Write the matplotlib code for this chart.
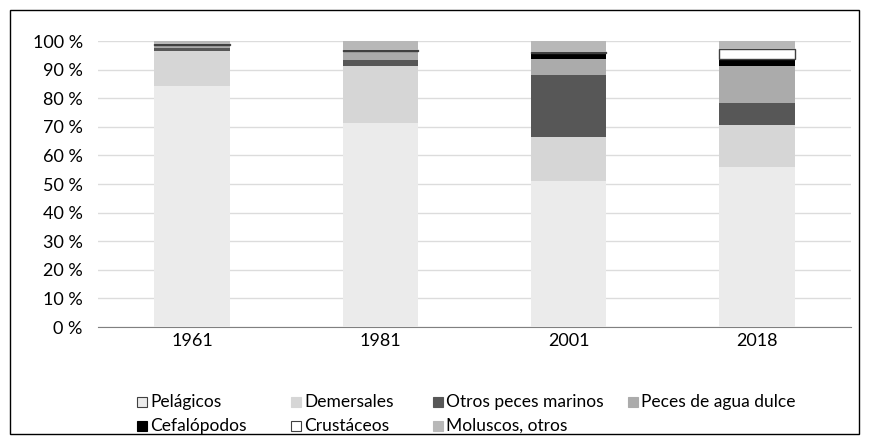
import matplotlib.pyplot as plt
from matplotlib.patches import Rectangle
import numpy as np

plt.rcParams['font.family'] = ['Lato', 'DejaVu Sans']

years = ['1961', '1981', '2001', '2018']
series = ['Pelágicos', 'Demersales', 'Otros peces marinos', 'Peces de agua dulce',
          'Cefalópodos', 'Crustáceos', 'Moluscos, otros']

pelagicos = [84.4, 71.2, 51.0, 56.1]
demersales = [12.2, 20.0, 15.4, 14.6]
otros_marinos = [0.9, 2.2, 21.7, 7.6]
agua_dulce = [1.0, 2.8, 5.6, 12.8]
cefalopodos = [0.1, 0.2, 2.0, 2.7]
crustaceos = [0.2, 0.5, 0.6, 3.5]
moluscos = [1.2, 3.1, 3.7, 2.7]

values = [pelagicos, demersales, otros_marinos, agua_dulce, cefalopodos, crustaceos, moluscos]
colors = ['#ebebeb', '#d6d6d6', '#575757', '#ababab', '#000000', '#ffffff', '#b8b8b8']
edges = [None, None, None, None, None, '#404040', None]
legend_edges = ['#404040', None, None, None, None, '#404040', None]

W, H = 869, 444
fig = plt.figure(figsize=(W / 100, H / 100), dpi=100)
ax = fig.add_axes([98 / W, (H - 327) / H, (851 - 98) / W, (327 - 41) / H])

x = np.arange(len(years))
bottom = np.zeros(len(years))
for vals, c, e in zip(values, colors, edges):
    ax.bar(x, vals, 0.4, bottom=bottom, color=c,
           edgecolor=e if e else c, linewidth=1 if e else 0, zorder=3)
    bottom += np.array(vals)

ax.set_xlim(-0.5, len(years) - 0.5)
ax.set_ylim(0, 100)
ax.set_yticks(np.arange(0, 101, 10))
ax.set_yticklabels([f'{v} %' for v in range(0, 101, 10)], fontsize=13)
ax.set_xticks(x)
ax.set_xticklabels(years, fontsize=13)
ax.tick_params(length=0, pad=11)
ax.tick_params(axis='x', pad=4)
ax.yaxis.grid(True, color='#dcdcdc', linewidth=1, zorder=0)
for s in ['top', 'right', 'left']:
    ax.spines[s].set_visible(False)
ax.spines['bottom'].set_color('#808080')
ax.set_axisbelow(True)

# legend laid out like the original (two rows, columns aligned)
legend_pos = [(137, 402), (291, 402), (433, 402), (628, 402),
              (137, 426), (291, 426), (433, 426)]
for name, c, e, (px, py) in zip(series, colors, legend_edges, legend_pos):
    sq = 10
    fig.patches.append(Rectangle((px / W, (H - py - sq / 2) / H), sq / W, sq / H,
                                 transform=fig.transFigure, facecolor=c,
                                 edgecolor=e if e else c, linewidth=0.8))
    fig.text((px + sq + 3) / W, (H - py) / H, name, fontsize=12.5, va='center', ha='left')

# outer frame
fig.patches.append(Rectangle((10 / W, 10 / H), (859 - 10) / W, (434 - 10) / H,
                             transform=fig.transFigure, fill=False,
                             edgecolor='#000000', linewidth=1))

fig.savefig('out.png', dpi=100)
